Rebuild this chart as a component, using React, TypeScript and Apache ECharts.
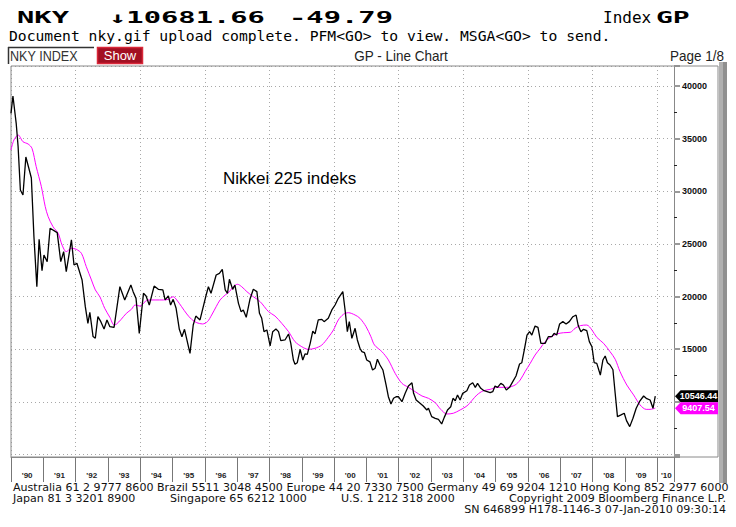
import React, { useEffect, useRef } from "react";
import * as echarts from "echarts";

// ---- Data ----
// Nikkei 225 closes: decimal-year positions and values
const nkyTime = [
  1990.0, 1990.06, 1990.16, 1990.22, 1990.29, 1990.37, 1990.46, 1990.55, 1990.63, 1990.71,
  1990.8, 1990.87, 1990.96, 1991.02, 1991.12, 1991.21, 1991.43, 1991.54, 1991.63, 1991.71,
  1991.87, 1991.95, 1992.04, 1992.2, 1992.3, 1992.38, 1992.44, 1992.54, 1992.61, 1992.69,
  1992.78, 1992.88, 1992.97, 1993.06, 1993.19, 1993.37, 1993.52, 1993.71, 1993.78, 1993.87,
  1993.97, 1994.1, 1994.18, 1994.28, 1994.43, 1994.56, 1994.7, 1994.77, 1994.87, 1994.94,
  1995.02, 1995.11, 1995.21, 1995.29, 1995.37, 1995.54, 1995.64, 1995.72, 1995.85, 1996.04,
  1996.11, 1996.19, 1996.35, 1996.45, 1996.54, 1996.63, 1996.7, 1996.76, 1996.86, 1996.93,
  1997.04, 1997.12, 1997.19, 1997.28, 1997.4, 1997.5, 1997.61, 1997.69, 1997.76, 1997.83,
  1997.92, 1998.02, 1998.1, 1998.2, 1998.28, 1998.35, 1998.48, 1998.59, 1998.66, 1998.74,
  1998.79, 1998.86, 1998.95, 1999.03, 1999.1, 1999.17, 1999.26, 1999.34, 1999.41, 1999.51,
  1999.62, 1999.69, 1999.82, 1999.93, 2000.03, 2000.13, 2000.27, 2000.34, 2000.41, 2000.47,
  2000.55, 2000.65, 2000.72, 2000.8, 2000.86, 2000.94, 2001.01, 2001.11, 2001.19, 2001.27,
  2001.34, 2001.42, 2001.51, 2001.61, 2001.68, 2001.76, 2001.84, 2001.92, 2001.99, 2002.1,
  2002.2, 2002.3, 2002.41, 2002.46, 2002.54, 2002.66, 2002.76, 2002.87, 2002.92, 2003.02,
  2003.13, 2003.23, 2003.33, 2003.41, 2003.51, 2003.61, 2003.68, 2003.75, 2003.82, 2003.9,
  2003.98, 2004.11, 2004.19, 2004.29, 2004.37, 2004.44, 2004.54, 2004.64, 2004.83, 2004.91,
  2004.98, 2005.06, 2005.16, 2005.24, 2005.33, 2005.43, 2005.53, 2005.63, 2005.74, 2005.81,
  2005.89, 2005.97, 2006.05, 2006.12, 2006.22, 2006.31, 2006.4, 2006.53, 2006.63, 2006.74,
  2006.81, 2006.89, 2006.98, 2007.08, 2007.18, 2007.28, 2007.39, 2007.49, 2007.56, 2007.64,
  2007.72, 2007.82, 2007.9, 2007.98, 2008.05, 2008.13, 2008.24, 2008.32, 2008.39, 2008.46,
  2008.54, 2008.63, 2008.7, 2008.77, 2008.88, 2008.98, 2009.05, 2009.15, 2009.25, 2009.35,
  2009.45, 2009.58, 2009.66, 2009.78, 2009.87, 2009.94,
];
const nkyClose = [
  37400, 39050, 36480, 34240, 30120, 29650, 33260, 32210, 31260, 25690,
  20940, 25440, 22460, 23950, 23310, 26490, 26070, 23320, 24270, 22370,
  25380, 23000, 23160, 21580, 19040, 17460, 18510, 16200, 16040, 18090,
  17620, 16920, 17780, 17140, 17080, 20940, 19680, 21110, 20470, 19830,
  16510, 20310, 20060, 19200, 21000, 20690, 20630, 19680, 20060, 19200,
  19740, 18890, 16890, 16190, 16890, 14610, 17300, 18150, 17780, 20150,
  20940, 20310, 22050, 22210, 22590, 20630, 20310, 21640, 20690, 21100,
  19360, 18570, 18730, 18030, 19800, 20690, 20470, 18410, 17940, 16670,
  16830, 15310, 16670, 16920, 16670, 15820, 15880, 16450, 15560, 13980,
  13570, 13720, 14990, 13980, 14550, 14520, 15560, 16730, 16450, 17780,
  17840, 17620, 17940, 18730, 19200, 19840, 20470, 18730, 16670, 17620,
  16040, 16990, 15880, 15090, 14770, 14670, 13980, 13800, 13030, 13200,
  14050, 13500, 13030, 11600, 10490, 9800, 10340, 10490, 10490, 10020,
  10810, 11510, 11820, 10810, 10180, 9870, 9610, 9230, 9390, 8600,
  8440, 8340, 7900, 8530, 9230, 9540, 10340, 10110, 10660, 10180,
  10810, 11060, 11600, 11820, 11380, 11760, 11290, 11060, 10870, 10970,
  11510, 11380, 11760, 11600, 11130, 11380, 11920, 12460, 13600, 13720,
  14990, 16350, 16670, 16350, 17200, 17080, 15560, 15560, 16190, 16190,
  16510, 16350, 17400, 17620, 17400, 17620, 18090, 18250, 17200, 16670,
  16890, 16760, 15720, 15240, 13720, 13660, 12550, 13980, 14360, 13720,
  13500, 13050, 10800, 8600, 8760, 8920, 8220, 7650, 8440, 9390,
  10020, 10560, 10340, 10180, 9390, 10546.44,
];
// Moving average (magenta)
const maTime = [
  1990.0, 1990.09, 1990.22, 1990.37, 1990.53, 1990.65, 1990.78, 1990.94, 1991.06, 1991.15,
  1991.3, 1991.46, 1991.58, 1991.71, 1991.87, 1992.02, 1992.18, 1992.33, 1992.49, 1992.61,
  1992.75, 1992.9, 1993.06, 1993.19, 1993.26, 1993.41, 1993.57, 1993.73, 1993.84, 1993.99,
  1994.15, 1994.25, 1994.46, 1994.72, 1994.87, 1995.02, 1995.13, 1995.28, 1995.44, 1995.59,
  1995.75, 1995.93, 1996.08, 1996.21, 1996.35, 1996.47, 1996.63, 1996.76, 1996.88, 1997.01,
  1997.14, 1997.3, 1997.45, 1997.71, 1997.97, 1998.17, 1998.38, 1998.59, 1998.79, 1999.0,
  1999.2, 1999.41, 1999.62, 1999.82, 1999.98, 2000.13, 2000.29, 2000.44, 2000.65, 2000.8,
  2000.99, 2001.14, 2001.25, 2001.48, 2001.68, 2001.89, 2002.1, 2002.3, 2002.51, 2002.72,
  2002.92, 2003.13, 2003.3, 2003.49, 2003.69, 2003.9, 2004.11, 2004.26, 2004.42, 2004.62,
  2004.83, 2005.04, 2005.35, 2005.6, 2005.76, 2005.91, 2006.07, 2006.22, 2006.38, 2006.53,
  2006.69, 2006.89, 2007.1, 2007.31, 2007.46, 2007.62, 2007.82, 2007.98, 2008.13, 2008.34,
  2008.54, 2008.7, 2008.85, 2009.06, 2009.27, 2009.47, 2009.66, 2009.78, 2009.94,
];
const maValue = [
  33920, 34870, 35350, 34710, 34490, 34080, 32340, 30440, 28540, 27590,
  26640, 26010, 24900, 24270, 24590, 24490, 24110, 22840, 21580, 20630,
  19990, 18890, 18030, 17300, 17370, 17840, 18410, 18800, 19200, 19100,
  19520, 19680, 19680, 19680, 19740, 19990, 19680, 19040, 18350, 17840,
  17520, 17400, 17620, 18250, 19040, 19680, 20150, 20470, 20940, 21170,
  20940, 20470, 20100, 19520, 18570, 18160, 17460, 16670, 15720, 15240,
  14990, 15090, 15400, 16130, 16830, 17780, 18320, 18470, 18250, 17940,
  17140, 16190, 15400, 14770, 13980, 12710, 11760, 11380, 10970, 10560,
  10340, 9920, 9290, 8850, 8920, 9230, 9610, 10110, 10660, 11060,
  11190, 11380, 11380, 11600, 12080, 12870, 13660, 14450, 15090, 15720,
  16130, 16450, 16570, 16610, 16990, 17240, 17300, 16830, 16130, 15560,
  14770, 14050, 12870, 11600, 10660, 9710, 9290, 9290, 9407.54,
];
const yearTickLabels = [
  "'90", "'91", "'92", "'93", "'94", "'95", "'96", "'97", "'98", "'99",
  "'00", "'01", "'02", "'03", "'04", "'05", "'06", "'07", "'08", "'09", "'10",
];
const shownYLabels = [15000, 20000, 25000, 30000, 35000, 40000];
const X_MIN = 1990;
const X_MAX = 2010.52;
const Y_MIN = 4766;
const Y_MAX = 41899;

const chartTitle = "Nikkei 225 indeks";
const footerLine1 =
  "Australia 61 2 9777 8600 Brazil 5511 3048 4500 Europe 44 20 7330 7500 Germany 49 69 9204 1210 Hong Kong 852 2977 6000";
const footerJapan = "Japan 81 3 3201 8900";
const footerSingapore = "Singapore 65 6212 1000";
const footerUS = "U.S. 1 212 318 2000";
const footerCopyright = "Copyright 2009 Bloomberg Finance L.P.";
const footerSN = "SN 646899 H178-1146-3 07-Jan-2010 09:30:14";

const MONO = "DejaVu Sans Mono";
const SANS = "Liberation Sans";

function txt(text: string, x: number, y: number, opts: any = {}) {
  const { scaleX = 1, ...style } = opts;
  return {
    type: "text",
    x,
    y,
    scaleX,
    z: 20,
    silent: true,
    style: {
      text,
      fill: "#000",
      fontFamily: SANS,
      fontSize: 12,
      verticalAlign: "middle",
      align: "left",
      ...style,
    },
  };
}

const footStyle = { fontFamily: "DejaVu Sans", fontSize: 10.5, fill: "#111", scaleX: 1.055 };

export default function App() {
  const ref = useRef<HTMLDivElement>(null);
  useEffect(() => {
    const chart = echarts.init(ref.current!, null, { renderer: "svg" });
    const nkyLast = nkyClose[nkyClose.length - 1];
    const maLast = maValue[maValue.length - 1];
    const tagPath = "path://M0,6L6,0L46,0L46,12L6,12Z";

    const option: any = {
      animation: false,
      backgroundColor: "#ffffff",
      title: {
        text: chartTitle,
        left: 218,
        top: 165,
        textStyle: { fontFamily: SANS, fontSize: 17, fontWeight: "normal", color: "#000" },
      },
      grid: { left: 11, right: 62, top: 66, bottom: 70 },
      xAxis: [
        {
          type: "value",
          min: X_MIN,
          max: X_MAX,
          interval: 1,
          position: "bottom",
          axisLine: { show: true, onZero: false, lineStyle: { color: "#888" } },
          axisTick: { show: true, inside: false, length: 25, lineStyle: { color: "#777" } },
          axisLabel: { show: false },
          splitLine: { show: false },
        },
        {
          type: "value",
          min: X_MIN,
          max: X_MAX,
          interval: 2,
          position: "bottom",
          axisLine: { show: false, onZero: false },
          axisTick: { show: false },
          axisLabel: { show: false },
          splitLine: { show: true, lineStyle: { color: "#a8a8a8", type: [1, 3], width: 1 } },
        },
        {
          type: "value",
          min: X_MIN,
          max: X_MAX,
          interval: 0.5,
          position: "bottom",
          axisLine: { show: false, onZero: false },
          axisTick: { show: false },
          splitLine: { show: false },
          axisLabel: {
            show: true,
            margin: 14,
            fontSize: 8,
            fontWeight: "bold",
            fontFamily: SANS,
            color: "#222",
            formatter: (v: number) => {
              const f = v - Math.floor(v);
              if (Math.abs(f - 0.5) > 0.01) return "";
              const idx = Math.floor(v) - 1990;
              const lab = yearTickLabels[idx] || "";
              return idx === yearTickLabels.length - 1 ? "{s|" + lab + "}" : lab;
            },
            rich: {
              s: { fontSize: 8, fontWeight: "bold", fontFamily: SANS, color: "#222", padding: [0, 14, 0, 0] },
            },
          },
        },
      ],
      yAxis: {
        type: "value",
        position: "right",
        min: Y_MIN,
        max: Y_MAX,
        splitNumber: 7,
        axisLine: { show: true, lineStyle: { color: "#888" } },
        axisTick: { show: true, length: 6, lineStyle: { color: "#999", width: 2 } },
        minorTick: { show: true, splitNumber: 2, length: 3, lineStyle: { color: "#222" } },
        axisLabel: {
          margin: 8,
          fontSize: 9,
          fontWeight: "bold",
          fontFamily: SANS,
          color: "#111",
          formatter: (v: number) => (shownYLabels.indexOf(v) >= 0 ? String(v) : ""),
        },
        splitLine: { show: true, lineStyle: { color: "#a8a8a8", type: [1, 3], width: 1 } },
      },
      series: [
        {
          type: "line",
          name: "NKY",
          xAxisIndex: 0,
          yAxisIndex: 0,
          data: nkyTime.map((t, i) => [t, nkyClose[i]]),
          showSymbol: false,
          symbol: "none",
          lineStyle: { color: "#000", width: 1.3 },
          z: 4,
          markPoint: {
            silent: true,
            symbol: tagPath,
            symbolSize: [43, 12],
            symbolOffset: [22.5, 0],
            itemStyle: { color: "#000" },
            label: {
              show: true,
              position: "inside",
              offset: [2, 0],
              formatter: nkyLast.toFixed(2),
              color: "#fff",
              fontSize: 9,
              fontWeight: "bold",
              fontFamily: SANS,
            },
            data: [{ coord: [X_MAX, nkyLast], value: nkyLast }],
          },
        },
        {
          type: "line",
          name: "MA",
          xAxisIndex: 0,
          yAxisIndex: 0,
          data: maTime.map((t, i) => [t, maValue[i]]),
          showSymbol: false,
          symbol: "none",
          smooth: 0.3,
          lineStyle: { color: "#ff00ff", width: 1 },
          z: 3,
          markPoint: {
            silent: true,
            symbol: tagPath,
            symbolSize: [43, 12],
            symbolOffset: [22.5, 0],
            itemStyle: { color: "#ff00ff" },
            label: {
              show: true,
              position: "inside",
              offset: [2, 0],
              formatter: maLast.toFixed(2),
              color: "#fff",
              fontSize: 9,
              fontWeight: "bold",
              fontFamily: SANS,
            },
            data: [{ coord: [X_MAX, maLast], value: maLast }],
          },
        },
      ],
      graphic: {
        elements: [
          // header
          txt("NKY", 17, 17.5, { fontFamily: MONO, fontWeight: "bold", fontSize: 16, scaleX: 1.8 }),
          txt("\u219310681.66", 109, 17.5, { fontFamily: MONO, fontWeight: "bold", fontSize: 16, scaleX: 1.8 }),
          txt("-49.79", 289, 17.5, { fontFamily: MONO, fontWeight: "bold", fontSize: 16, scaleX: 1.8 }),
          txt("Index", 603, 17, { fontFamily: MONO, fontSize: 16 }),
          txt("GP", 656, 17.5, { fontFamily: MONO, fontWeight: "bold", fontSize: 16, scaleX: 1.75 }),
          txt("Document nky.gif upload complete. PFM<GO> to view. MSGA<GO> to send.", 9, 36, {
            fontFamily: MONO,
            fontSize: 14,
            scaleX: 1.05,
          }),
          // toolbar
          { type: "rect", z: 19, silent: true, shape: { x: 8, y: 47, width: 86, height: 16 }, style: { fill: "#fff" } },
          { type: "line", z: 20, silent: true, shape: { x1: 8, y1: 47.5, x2: 94, y2: 47.5 }, style: { stroke: "#333", lineWidth: 1.5 } },
          { type: "line", z: 20, silent: true, shape: { x1: 8.5, y1: 47, x2: 8.5, y2: 64 }, style: { stroke: "#333", lineWidth: 1.5 } },
          txt("NKY INDEX", 10, 56, { fontSize: 15, scaleX: 0.84, fill: "#333" }),
          {
            type: "rect",
            z: 19,
            silent: true,
            shape: { x: 97.5, y: 47.5, width: 45, height: 16 },
            style: { fill: "#a30f22", stroke: "#d9283a", lineWidth: 1.5 },
          },
          txt("Show", 120, 55, { fontSize: 13, fill: "#fff", align: "center" }),
          txt("GP - Line Chart", 401, 56, { fontSize: 15, scaleX: 0.9, fill: "#222", align: "center" }),
          txt("Page 1/8", 724, 56, { fontSize: 15, scaleX: 0.9, fill: "#222", align: "right" }),
          // frame
          {
            type: "rect",
            z: 1,
            silent: true,
            shape: { x: 11, y: 66, width: 707, height: 391 },
            style: { fill: "none", stroke: "#8a8a8a", lineWidth: 1 },
          },
          { type: "rect", z: 1, silent: true, shape: { x: 719, y: 62, width: 8, height: 421 }, style: { fill: "#b0b0b0" } },
          { type: "rect", z: 1, silent: true, shape: { x: 723, y: 62, width: 4, height: 421 }, style: { fill: "#909090" } },
          // footer
          txt(footerLine1, 13, 488, footStyle),
          txt(footerJapan, 13, 499, footStyle),
          txt(footerSingapore, 170, 499, footStyle),
          txt(footerUS, 341, 499, footStyle),
          txt(footerCopyright, 726, 499, { ...footStyle, align: "right" }),
          txt(footerSN, 726, 509.5, { ...footStyle, align: "right" }),
        ],
      },
    };
    chart.setOption(option);
    return () => chart.dispose();
  }, []);
  return (
    <div
      ref={ref}
      style={{ position: "absolute", left: 0, top: 0, width: 736, height: 527, background: "#fff" }}
    />
  );
}
